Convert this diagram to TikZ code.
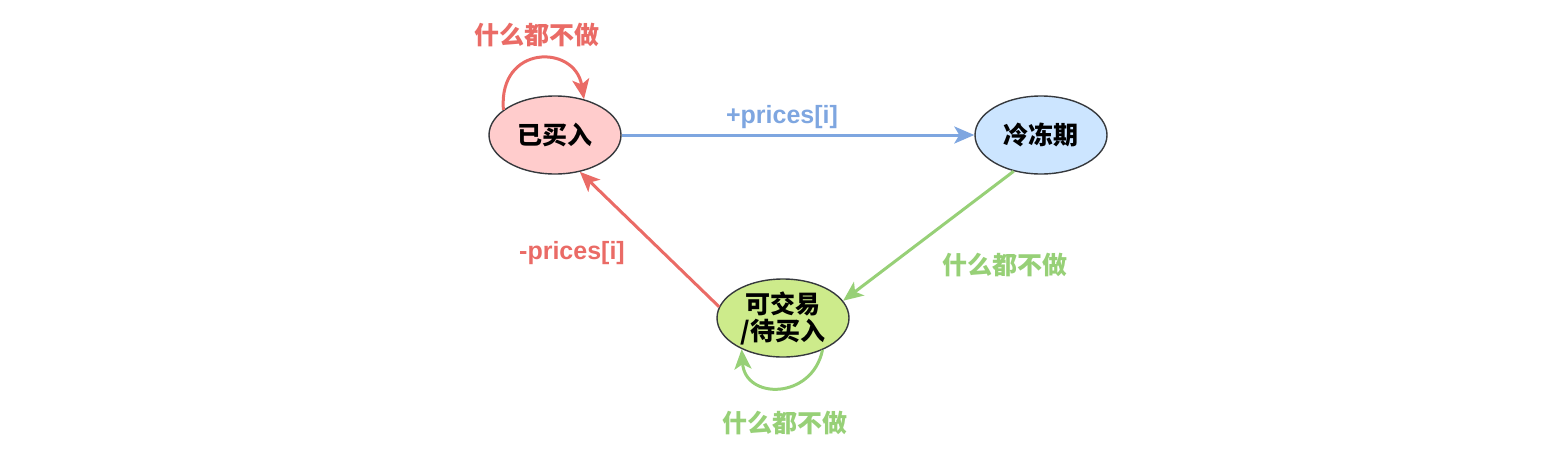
\documentclass[tikz,border=0pt]{standalone}
\usepackage{fontspec}
\setmainfont{Liberation Sans}
\newfontfamily\cjk{Noto Sans CJK SC}
\usetikzlibrary{shapes.geometric, arrows.meta}
\definecolor{redline}{HTML}{EA6B66}
\definecolor{blueline}{HTML}{7EA6E0}
\definecolor{greenline}{HTML}{97D077}
\definecolor{pinkfill}{HTML}{FFCCCC}
\definecolor{bluefill}{HTML}{CCE5FF}
\definecolor{greenfill}{HTML}{CDEB8B}
\definecolor{edgegray}{HTML}{36393D}
\tikzstyle{state}=[ellipse, draw=edgegray, line width=1.4pt, minimum width=132pt, minimum height=78pt, inner sep=0pt, align=center, font=\cjk\bfseries\fontsize{25}{27}\selectfont]
\tikzstyle{move}=[line width=3pt, -{Stealth[length=20pt, width=17pt, inset=5pt]}]
\tikzstyle{lbl}=[font=\bfseries\fontsize{25}{27}\selectfont]
\tikzstyle{cjklbl}=[font=\cjk\bfseries\fontsize{25}{27}\selectfont]

\begin{document}
\begin{tikzpicture}[x=1pt, y=-1pt]
    \useasboundingbox (0,0) rectangle (1568,453);
% States
    \node[state, fill=pinkfill] (bought) at (555,135) {已买入};
    \node[state, fill=bluefill] (cooldown) at (1041,135) {冷冻期};
    \node[state, fill=greenfill] (ready) at (783,318) {可交易\\/待买入};
% Transitions
    \draw[move, blueline] (bought) -- (cooldown);
    \draw[move, greenline] (cooldown.-127) -- (ready.16);
    \draw[move, redline] (ready.170) -- (bought.-56);
% Self loops
    \draw[move, redline] (bought.154) .. controls (498,44) and (575,44) .. (bought.51);
    \draw[move, greenline] (ready.-39) .. controls (812,400) and (745,400) .. (ready.-143);
% Labels
    \node[cjklbl, redline] (keepbought) at (537,35) {什么都不做};
    \node[lbl, blueline] (sell) at (782,117) {+prices[i]};
    \node[lbl, redline] (buy) at (572,253) {-prices[i]};
    \node[cjklbl, greenline] (wait) at (1005,265) {什么都不做};
    \node[cjklbl, greenline] (keepready) at (785,423) {什么都不做};
\end{tikzpicture}
\end{document}
